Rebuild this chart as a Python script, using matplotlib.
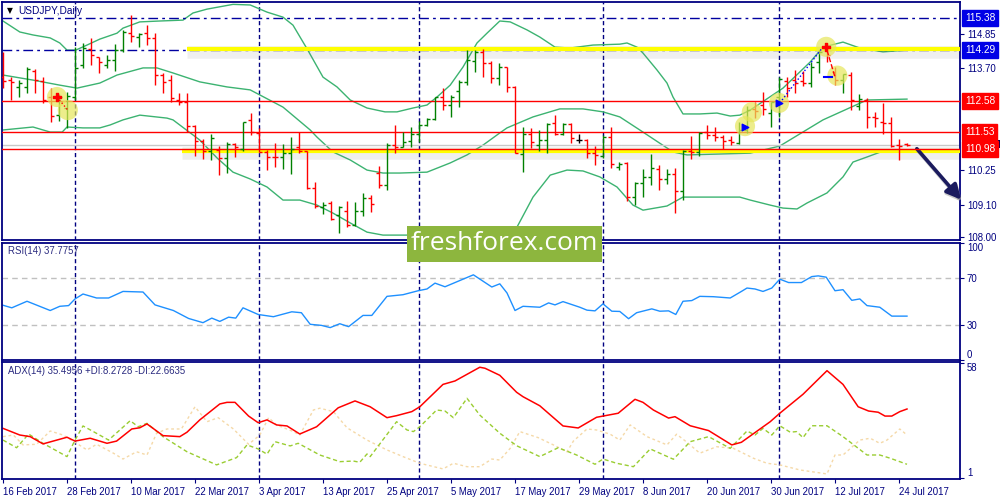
import matplotlib
matplotlib.use('Agg')
import matplotlib.pyplot as plt
import matplotlib.transforms as mtransforms
from matplotlib.collections import LineCollection
from matplotlib.patches import Rectangle

plt.rcParams['font.family'] = ['Liberation Sans', 'DejaVu Sans']

# daily bars, index 0 = 16 Feb 2017 ... 113 = 25 Jul 2017
opens = [113.39, 113.29, 113.05, 113.05, 113.60, 113.26, 112.71, 112.11, 112.35, 112.73,
         113.80, 114.34, 114.06, 113.80, 113.97, 114.30, 114.86, 114.75, 114.87, 114.70,
         113.46, 113.29, 112.62, 112.55, 111.75, 111.24, 110.90, 110.94, 110.66, 111.14,
         110.97, 111.95, 111.52, 110.88, 110.71, 110.69, 110.83, 111.03, 110.91, 109.64,
         109.01, 109.16, 108.75, 108.89, 108.41, 108.89, 109.31, 110.15, 109.76, 111.10,
         111.05, 111.25, 111.49, 111.78, 111.98, 112.73, 112.45, 112.93, 113.24, 113.94,
         114.25, 113.85, 113.35, 113.74, 113.07, 110.79, 111.47, 111.10, 111.27, 111.83,
         111.47, 111.81, 111.27, 111.27, 110.83, 110.73, 111.38, 110.36, 110.49, 109.36,
         109.81, 110.02, 110.29, 109.95, 110.12, 109.56, 110.91, 110.88, 111.55, 111.44,
         111.38, 111.27, 111.18, 111.61, 112.32, 112.45, 112.17, 112.73, 113.27, 113.29,
         113.27, 113.18, 113.91, 114.36, 113.57, 113.29, 113.46, 112.42, 112.62, 112.06,
         111.89, 111.86, 111.10, 111.15]
highs = [114.24, 113.39, 113.29, 113.74, 113.66, 113.39, 113.02, 112.82, 112.89, 114.40,
         114.55, 114.71, 114.07, 114.13, 114.50, 114.98, 115.48, 114.87, 115.15, 114.87,
         113.53, 113.46, 112.85, 112.85, 111.78, 111.30, 111.47, 111.06, 111.20, 111.17,
         111.89, 112.18, 111.68, 110.94, 111.17, 111.14, 111.37, 111.55, 110.91, 109.87,
         109.20, 109.22, 109.05, 109.23, 109.20, 109.50, 109.42, 110.40, 111.17, 111.78,
         111.55, 111.72, 111.91, 112.01, 112.73, 113.01, 112.79, 113.29, 114.30, 114.30,
         114.33, 113.94, 113.85, 113.74, 113.09, 111.72, 111.67, 111.60, 111.83, 112.11,
         111.83, 111.83, 111.47, 111.30, 111.07, 111.44, 111.72, 110.54, 110.54, 109.87,
         110.29, 110.80, 110.43, 110.29, 110.32, 110.94, 111.41, 111.55, 111.78, 111.72,
         111.44, 111.41, 111.89, 112.42, 112.55, 112.90, 112.56, 113.40, 113.40, 113.63,
         113.61, 113.91, 114.30, 114.53, 113.74, 113.50, 113.57, 112.82, 112.68, 112.23,
         112.51, 112.06, 111.30, 111.16]
lows = [113.02, 112.62, 112.72, 112.87, 112.85, 112.52, 111.88, 111.91, 111.68, 112.62,
        113.69, 113.80, 113.53, 113.70, 113.60, 114.24, 114.57, 114.40, 114.47, 113.12,
        112.85, 112.55, 112.45, 111.54, 110.73, 110.63, 110.60, 110.09, 110.16, 110.70,
        110.91, 111.44, 110.87, 110.26, 110.36, 110.30, 110.12, 110.83, 109.62, 108.97,
        108.77, 108.58, 108.13, 108.33, 108.38, 108.72, 108.86, 109.64, 109.59, 110.83,
        111.03, 111.05, 111.20, 111.74, 111.95, 112.28, 112.06, 112.37, 113.12, 113.57,
        113.40, 113.18, 113.12, 112.90, 110.82, 110.21, 110.99, 110.91, 110.85, 111.44,
        111.44, 111.16, 111.16, 110.66, 110.43, 110.66, 110.32, 110.26, 109.23, 109.08,
        109.36, 109.76, 109.59, 109.79, 108.83, 109.25, 110.62, 110.73, 111.30, 111.25,
        110.96, 111.10, 111.14, 111.51, 112.00, 112.11, 111.72, 112.06, 112.73, 112.84,
        113.09, 113.07, 113.52, 113.91, 113.12, 112.84, 112.28, 112.28, 111.67, 111.72,
        111.47, 111.05, 110.60, 111.08]
closes = [113.27, 113.24, 113.20, 113.66, 113.29, 112.62, 112.08, 112.71, 112.75, 113.69,
          114.36, 114.13, 113.90, 113.97, 114.30, 114.91, 114.77, 114.85, 114.70, 113.46,
          113.24, 112.68, 112.54, 111.75, 111.24, 110.90, 111.33, 110.67, 111.14, 111.05,
          111.89, 111.55, 110.88, 110.71, 110.69, 110.83, 110.98, 110.91, 109.64, 109.05,
          109.08, 108.60, 109.01, 108.41, 108.89, 109.31, 109.11, 109.76, 111.10, 111.05,
          111.21, 111.49, 111.78, 111.97, 112.73, 112.45, 112.73, 113.24, 113.97, 114.25,
          113.85, 113.35, 113.74, 113.07, 110.85, 111.49, 111.21, 111.27, 111.81, 111.47,
          111.81, 111.33, 111.27, 110.83, 110.77, 111.38, 110.46, 110.46, 109.36, 109.81,
          110.02, 110.32, 109.95, 110.12, 109.56, 110.91, 110.88, 111.52, 111.44, 111.38,
          111.25, 111.21, 111.61, 112.28, 112.25, 112.31, 112.56, 113.33, 113.01, 113.18,
          113.18, 113.74, 114.25, 114.13, 113.29, 113.50, 112.62, 112.65, 112.06, 112.00,
          111.86, 111.07, 111.08, 111.09]

date_idx = [0, 8, 16, 24, 32, 40, 48, 56, 64, 72, 80, 88, 96, 104, 112]
date_labels = ['16 Feb 2017', '28 Feb 2017', '10 Mar 2017', '22 Mar 2017', '3 Apr 2017',
               '13 Apr 2017', '25 Apr 2017', '5 May 2017', '17 May 2017', '29 May 2017',
               '8 Jun 2017', '20 Jun 2017', '30 Jun 2017', '12 Jul 2017', '24 Jul 2017']
month_starts = [9, 32, 52, 75, 97]

# Bollinger bands (bar index, price)
bb_up_x = [0, 2.1, 3.75, 5.9, 7.1, 8, 9.1, 10.5, 12.1, 14.25, 15, 17.1, 19.6, 22.5, 23.75,
           25.5, 28.75, 30.9, 33, 35, 36.25, 38.1, 40, 41.75, 43.4, 45.5, 47.75, 49.25,
           51.25, 53, 54.25, 55.9, 57.5, 59.25, 60.5, 62.1, 63.4, 65.5, 67.1, 69, 70.9,
           73.75, 77.1, 78, 79.25, 80, 81.75, 83, 83.75, 85, 87.1, 89.25, 90.9, 92.1, 93.4,
           97.5, 100.9, 102.5, 105, 107.1, 110, 113]
bb_up = [115.28, 114.91, 114.81, 114.71, 114.54, 114.30, 114.30, 114.47, 114.67, 114.87,
         115.04, 115.25, 115.28, 115.31, 115.55, 115.68, 115.84, 115.82, 115.58, 115.41,
         115.14, 114.30, 113.39, 113.06, 112.62, 112.35, 112.22, 112.22, 112.35, 112.45,
         112.72, 113.12, 113.73, 114.54, 114.87, 115.28, 115.25, 114.98, 114.74, 114.40,
         114.37, 114.47, 114.50, 114.54, 114.40, 114.20, 113.63, 113.19, 112.72, 112.15,
         112.15, 112.18, 112.08, 112.11, 112.28, 113.02, 113.90, 114.40, 114.57, 114.37,
         114.24, 114.30]
bb_mid_x = [0, 3.75, 7.1, 9.25, 12.1, 14.25, 17.5, 19.25, 21.25, 24.6, 28, 30.9, 35, 38.4,
            39.25, 41.25, 43.4, 45.5, 47.5, 49.6, 53, 55.9, 58, 60, 62.1, 63, 66.25, 69.6,
            72.5, 75, 77.1, 79.6, 83.75, 85.5, 93.4, 97.1, 102.5, 108, 113]
bb_mid = [113.46, 113.29, 113.12, 113.02, 113.19, 113.46, 113.70, 113.70, 113.53, 113.23,
          113.06, 112.96, 112.38, 111.61, 111.37, 110.87, 110.60, 110.26, 110.16, 110.16,
          110.19, 110.50, 110.77, 111.10, 111.51, 111.68, 112.05, 112.32, 112.32, 112.22,
          112.05, 111.61, 110.87, 110.77, 110.83, 111.07, 111.95, 112.62, 112.65]
bb_lo_x = [0, 3.75, 5.9, 7.4, 8, 10, 12.1, 13.4, 15, 17.1, 20.5, 21.25, 24.6, 26.75, 28.75,
           30.9, 33, 35, 37.1, 39.25, 41.25, 43.4, 45.5, 47.5, 50.5, 53, 56, 58, 60, 62,
           64.25, 66.25, 68.4, 70.5, 72.5, 74.6, 76.75, 78.75, 80, 83, 85, 87.1, 92.1, 93.4,
           95.9, 97.5, 99.25, 100.5, 103, 105, 106.25, 108, 110, 111.25, 113]
bb_lo = [111.61, 111.71, 111.54, 111.54, 111.71, 111.68, 111.68, 111.78, 111.95, 112.11,
         112.01, 111.95, 111.27, 110.67, 110.19, 109.96, 109.69, 109.25, 109.25, 109.08,
         108.81, 108.48, 108.17, 108.07, 108.07, 107.95, 107.88, 107.80, 107.50, 107.74,
         108.34, 109.35, 110.09, 110.26, 110.23, 110.03, 109.69, 109.08, 108.91, 109.05,
         109.35, 109.35, 109.35, 109.25, 109.08, 108.98, 108.95, 109.15, 109.49, 110.03,
         110.53, 110.70, 110.90, 110.94, 110.87]

# RSI(14)
rsi_x = [0, 1.1, 3, 5.9, 7.1, 8.2, 9, 10, 11.7, 13.2, 15, 17.5, 19, 21.3, 23.2, 25, 26.1,
         27.1, 28.2, 29.1, 30, 31.9, 33.8, 36.1, 37.3, 38.4, 39.8, 40.9, 42.1, 43.2, 45,
         46.1, 48, 50, 51.9, 53, 54, 55.25, 58.8, 61.1, 62.1, 63, 64, 65, 67.1, 68.2, 69,
         70, 72.1, 73, 74, 75, 76.1, 77.1, 78.2, 79.2, 81.1, 82.1, 83.2, 84.1, 85, 86.1,
         87.1, 88.8, 90.9, 92.3, 93, 94, 95, 96.1, 97.1, 98.2, 99.8, 101.1, 101.9, 102.9,
         104, 105, 106.1, 107.1, 108, 109.6, 111.1, 113]
rsi = [46.8, 44.6, 50.2, 42.3, 45.9, 46.5, 52.2, 56.4, 53.0, 53.0, 58.6, 58.1, 47.1, 42.3,
       35.5, 31.9, 35.8, 33.0, 36.6, 35.8, 44.6, 38.9, 37.0, 41.2, 40.4, 30.5, 29.6, 27.7,
       31.0, 28.5, 38.1, 38.1, 54.4, 55.8, 59.2, 60.7, 65.7, 62.6, 72.8, 62.4, 65.1, 57.3,
       42.3, 45.9, 45.1, 48.8, 47.1, 49.9, 45.1, 42.6, 42.0, 48.0, 41.7, 41.5, 35.3, 40.4,
       43.7, 41.7, 42.0, 38.9, 50.2, 50.8, 54.4, 54.1, 53.0, 58.6, 61.5, 60.7, 58.6, 61.5,
       69.1, 66.2, 66.2, 71.3, 71.9, 70.8, 59.2, 60.1, 51.0, 52.2, 46.5, 45.1, 37.5, 37.5]

# ADX(14), +DI, -DI
adx_x = [0, 2.1, 3.4, 5, 8, 9, 10.9, 13, 14.2, 16.1, 17.1, 18, 20, 22.1, 23, 24.6, 27.1, 28,
         29, 30.7, 31.9, 33, 34.2, 35.5, 37.1, 39.2, 41.9, 44, 45.9, 48, 49.2, 51.1, 52.1,
         55, 56.5, 59.6, 60.25, 62.1, 64.2, 65, 67.1, 70, 71.9, 74.2, 76.9, 79, 80, 81.3,
         83.2, 84, 85.9, 88.2, 91.1, 92.3, 95.9, 97.1, 100, 103, 105, 106.9, 108.2, 109.4,
         110.25, 111.1, 112.1, 113]
adx = [25.6, 22.3, 21.5, 17.9, 21.2, 19.3, 20.7, 18.2, 19.3, 25.3, 25.9, 27.8, 22.0, 21.5,
       23.7, 29.8, 37.7, 38.5, 38.5, 31.7, 28.4, 29.8, 27.3, 26.8, 22.8, 26.4, 35.8, 39.2,
       36.3, 30.9, 31.9, 33.9, 36.3, 47.4, 49.1, 55.9, 55.4, 51.9, 43.5, 41.3, 36.8, 26.8,
       25.8, 31.1, 33.1, 40.0, 38.5, 34.7, 30.7, 31.4, 26.9, 24.5, 17.4, 18.7, 28.9, 33.1,
       42.5, 54.2, 47.4, 36.3, 34.2, 33.6, 31.7, 31.7, 33.9, 35.2]
pdi_x = [0, 1.7, 3.2, 5, 8, 9, 10, 11.3, 13.2, 15.9, 16.9, 18, 20, 23, 26.7, 29.2, 30.5,
         31.9, 33, 34, 35.9, 36.9, 39.6, 42.1, 43.8, 44.6, 45.5, 45.9, 49.2, 50.5, 51.3,
         52.1, 54.2, 55.25, 56.3, 58, 59.6, 62.1, 64.2, 67.1, 69.4, 71.7, 74, 75, 76.7,
         78.8, 80.9, 83.8, 85.9, 88.2, 90.9, 93, 94, 95, 96.1, 97.1, 98.4, 99.2, 100,
         101.1, 103, 105, 108, 109.6, 110.9, 113]
pdi = [19.8, 16.0, 22.8, 18.2, 11.6, 19.8, 26.8, 24.0, 19.8, 29.4, 26.4, 28.1, 21.5, 14.0,
       7.5, 11.1, 17.4, 15.4, 12.8, 19.0, 16.9, 18.2, 12.4, 9.1, 9.4, 8.8, 12.9, 11.6, 28.9,
       24.8, 24.0, 26.4, 34.7, 34.2, 30.9, 40.5, 32.2, 23.2, 17.0, 11.6, 16.0, 12.4, 7.8,
       10.4, 8.3, 6.6, 15.4, 10.3, 19.0, 21.5, 15.7, 24.3, 22.3, 25.6, 22.3, 26.9, 23.7,
       24.0, 21.0, 26.9, 26.9, 21.5, 12.4, 12.4, 10.8, 7.8]
mdi_x = [0, 1.3, 2.5, 4.2, 5.9, 7.5, 9, 10.5, 11.7, 13.8, 15, 16.7, 18, 19.2, 20.5, 22.3,
         24, 25.5, 26.9, 28.8, 30.7, 32.1, 33.2, 34.2, 36.3, 37.1, 38.8, 39.6, 41.3, 43,
         45.5, 48, 50, 52.1, 55, 56.3, 58, 59.6, 61.1, 62.1, 63.4, 64.6, 66.9, 68.8, 70.5,
         71.3, 73, 74.2, 75.9, 77.1, 78.4, 80.5, 83, 84.2, 85.5, 87.1, 89.2, 91.3, 93.8,
         95.5, 97.1, 99.6, 103, 104, 105, 107.1, 108.4, 109.6, 110.5, 112.1, 113]
mdi = [21.5, 22.3, 17.4, 17.7, 24.3, 22.3, 18.7, 14.9, 17.7, 13.3, 10.4, 14.0, 12.4, 23.2,
       25.3, 25.3, 36.3, 28.9, 30.9, 25.3, 17.7, 22.3, 30.9, 27.3, 24.0, 22.3, 34.7, 35.6,
       33.9, 25.9, 19.8, 14.9, 11.6, 8.3, 5.5, 8.3, 6.6, 6.6, 10.4, 9.9, 15.7, 24.0, 21.0,
       17.4, 14.0, 19.3, 25.3, 24.8, 22.7, 19.8, 27.3, 21.5, 17.4, 22.7, 18.7, 13.3, 16.5,
       15.7, 10.8, 8.3, 7.5, 5.0, 3.0, 12.4, 12.4, 19.8, 20.7, 18.2, 19.8, 25.3, 22.3]

# horizontal levels drawn on the chart
res_dash = [115.38, 114.29]
red_levels = [112.58, 111.53, 110.98]
bid = 111.09

NAVY = '#000080'
GREEN = '#008000'
RED = '#ff0000'
BAND = '#3cb371'
FS = 6.9

fig = plt.figure(figsize=(10, 5), dpi=100)
ax = fig.add_axes([0.002, 0.52, 0.958, 0.476])
ax_rsi = fig.add_axes([0.002, 0.28, 0.958, 0.234])
ax_adx = fig.add_axes([0.002, 0.042, 0.958, 0.234])

XMIN, XMAX = -0.125, 119.625
for a in (ax, ax_rsi, ax_adx):
    a.set_xlim(XMIN, XMAX)
    for s in a.spines.values():
        s.set_color(NAVY)
        s.set_linewidth(1.3)
    a.yaxis.tick_right()
    a.tick_params(axis='y', length=3, color=NAVY, labelcolor=NAVY, labelsize=FS, pad=2)
    for m in month_starts:
        a.axvline(m, color=NAVY, lw=1, ls=(0, (3, 2)), zorder=1)

# ---- main price panel
ax.set_ylim(107.905, 115.92)
ax.set_xticks([])

ax.plot(bb_up_x, bb_up, color=BAND, lw=1, zorder=2)
ax.plot(bb_mid_x, bb_mid, color=BAND, lw=1, zorder=2)
ax.plot(bb_lo_x, bb_lo, color=BAND, lw=1, zorder=2)

for lv in res_dash:
    ax.axhline(lv, color='#0000a0', lw=1, dashes=(7, 3, 2, 3), zorder=2)
for lv in red_levels:
    ax.axhline(lv, color=RED, lw=1, zorder=4)
ax.axhline(bid, color='#c8c8c8', lw=1, zorder=2)

# yellow support / resistance zones with a soft shadow
for y0, x0 in [(114.33, 23), (110.91, 22.4)]:
    ax.plot([x0, XMAX], [y0 - 0.08, y0 - 0.08], color='#808080', lw=9, alpha=0.12,
            solid_capstyle='butt', zorder=2)
    ax.plot([x0, XMAX], [y0, y0], color='#ffff00', lw=3, solid_capstyle='butt', zorder=3)

segs, cols = [], []
for i in range(len(opens)):
    o, h, l, c = opens[i], highs[i], lows[i], closes[i]
    col = GREEN if c > o else (RED if c < o else 'black')
    segs += [[(i, l), (i, h)], [(i - 0.42, o), (i, o)], [(i, c), (i + 0.42, c)]]
    cols += [col] * 3
ax.add_collection(LineCollection(segs, colors=cols, linewidths=1.0, zorder=5))

# trade marks
circles = [(6.75, 112.72), (8.1, 112.28), (92.75, 111.74), (93.6, 112.21), (97.0, 112.52),
           (102.9, 114.41), (104.3, 113.44)]
ax.scatter([c[0] for c in circles], [c[1] for c in circles], s=210, color='#e6e65a',
           alpha=0.7, edgecolors='none', zorder=6)
ax.plot([6.75, 8.1], [112.72, 112.28], color=RED, lw=1, ls=':', zorder=7)
ax.plot([97.1, 102.4], [112.52, 114.37], color='blue', lw=1, ls=':', zorder=7)
ax.plot([103.0, 104.0], [114.30, 113.39], color=RED, lw=1, ls='--', zorder=7)
ax.plot([102.6, 103.6], [113.39, 113.39], color='blue', lw=1.5, zorder=7)
ax.scatter([6.75, 102.9], [112.72, 114.41], marker='P', s=30, color=RED, zorder=8)
ax.scatter([92.75, 97.0], [111.71, 112.52], marker='>', s=22, color='blue', zorder=8)

ax.set_yticks([108.00, 109.10, 110.25, 113.70, 114.85])
ax.set_yticklabels(['108.00', '109.10', '110.25', '113.70', '114.85'])


def price_box(price, fc):
    ax.annotate(f'{price:.2f}', xy=(1.0, price),
                xycoords=('axes fraction', 'data'), xytext=(3.5, 0),
                textcoords='offset points', va='center', ha='left', fontsize=7.3,
                color='white', annotation_clip=False, zorder=10,
                bbox=dict(boxstyle='square,pad=0.3', fc=fc, ec=fc))


price_box(115.38, '#0000e6')
price_box(114.29, '#0000e6')
price_box(112.58, RED)
price_box(111.53, RED)
# current bid label, mostly hidden under the 110.98 box
trans = mtransforms.blended_transform_factory(ax.transAxes, ax.transData)
ax.add_patch(Rectangle((1.002, 111.02), 0.05, 0.26, transform=trans, fc='#00005a',
                       ec='none', clip_on=False, zorder=9))
price_box(110.98, RED)

# forecast arrow
ax.annotate('', xy=(120.1, 109.12), xytext=(114.2, 110.98),
            arrowprops=dict(arrowstyle='-|>', color='#9a9a9a', lw=3, mutation_scale=22,
                            alpha=0.5, clip_on=False), annotation_clip=False)
ax.annotate('', xy=(120.0, 109.19), xytext=(114.0, 111.05),
            arrowprops=dict(arrowstyle='-|>', color='#1b1b5e', lw=2.6, mutation_scale=22,
                            clip_on=False), annotation_clip=False)

fig.text(0.0065, 1 - 11 / 500, '\u25bc', fontsize=5.5, color='black', va='center',
         family='DejaVu Sans')
fig.text(0.018, 1 - 11 / 500, 'USDJPY,Daily', fontsize=7.3, color=NAVY, va='center')

# ---- RSI panel
ax_rsi.set_ylim(0, 100)
ax_rsi.set_xticks([])
for lv in (30, 70):
    ax_rsi.axhline(lv, color='#c0c0c0', lw=1, dashes=(4, 3))
ax_rsi.plot(rsi_x, rsi, color='#1e90ff', lw=1)
ax_rsi.set_yticks([0, 30, 70, 100])
ax_rsi.set_yticklabels(['0', '30', '70', '100'])
lbls = ax_rsi.get_yticklabels()
lbls[0].set_va('bottom')
lbls[3].set_va('top')
fig.text(0.008, 1 - 251 / 500, 'RSI(14) 37.7757', fontsize=FS, color='#2a2a80', va='center')

# ---- ADX panel
ax_adx.set_ylim(0.5, 58.5)
ax_adx.plot(mdi_x, mdi, color='#f5d9a8', lw=1, ls=(0, (2, 2)))
ax_adx.plot(pdi_x, pdi, color='#9acd32', lw=1, ls=(0, (3, 2)))
ax_adx.plot(adx_x, adx, color=RED, lw=1.1)
ax_adx.set_yticks([1, 58])
ax_adx.set_yticklabels(['1', '58'])
lbls = ax_adx.get_yticklabels()
lbls[0].set_va('bottom')
lbls[1].set_va('top')
ax_adx.set_xticks(date_idx)
ax_adx.set_xticklabels(date_labels, ha='left')
ax_adx.tick_params(axis='x', length=3, color=NAVY, labelcolor=NAVY, labelsize=FS, pad=3)
fig.text(0.008, 1 - 371 / 500, 'ADX(14) 35.4956 +DI:8.2728 -DI:22.6635', fontsize=FS,
         color='#2a2a80', va='center')

# watermark
fig.patches.append(Rectangle((0.407, 1 - 262 / 500), 0.195, 36 / 500,
                             transform=fig.transFigure, fc='#8db63e', ec='none', zorder=20))
fig.text(0.5045, 1 - 244 / 500, 'freshforex.com', fontsize=19, color='white',
         family='Open Sans', ha='center', va='center', zorder=21)

fig.savefig('out.png', dpi=100)
